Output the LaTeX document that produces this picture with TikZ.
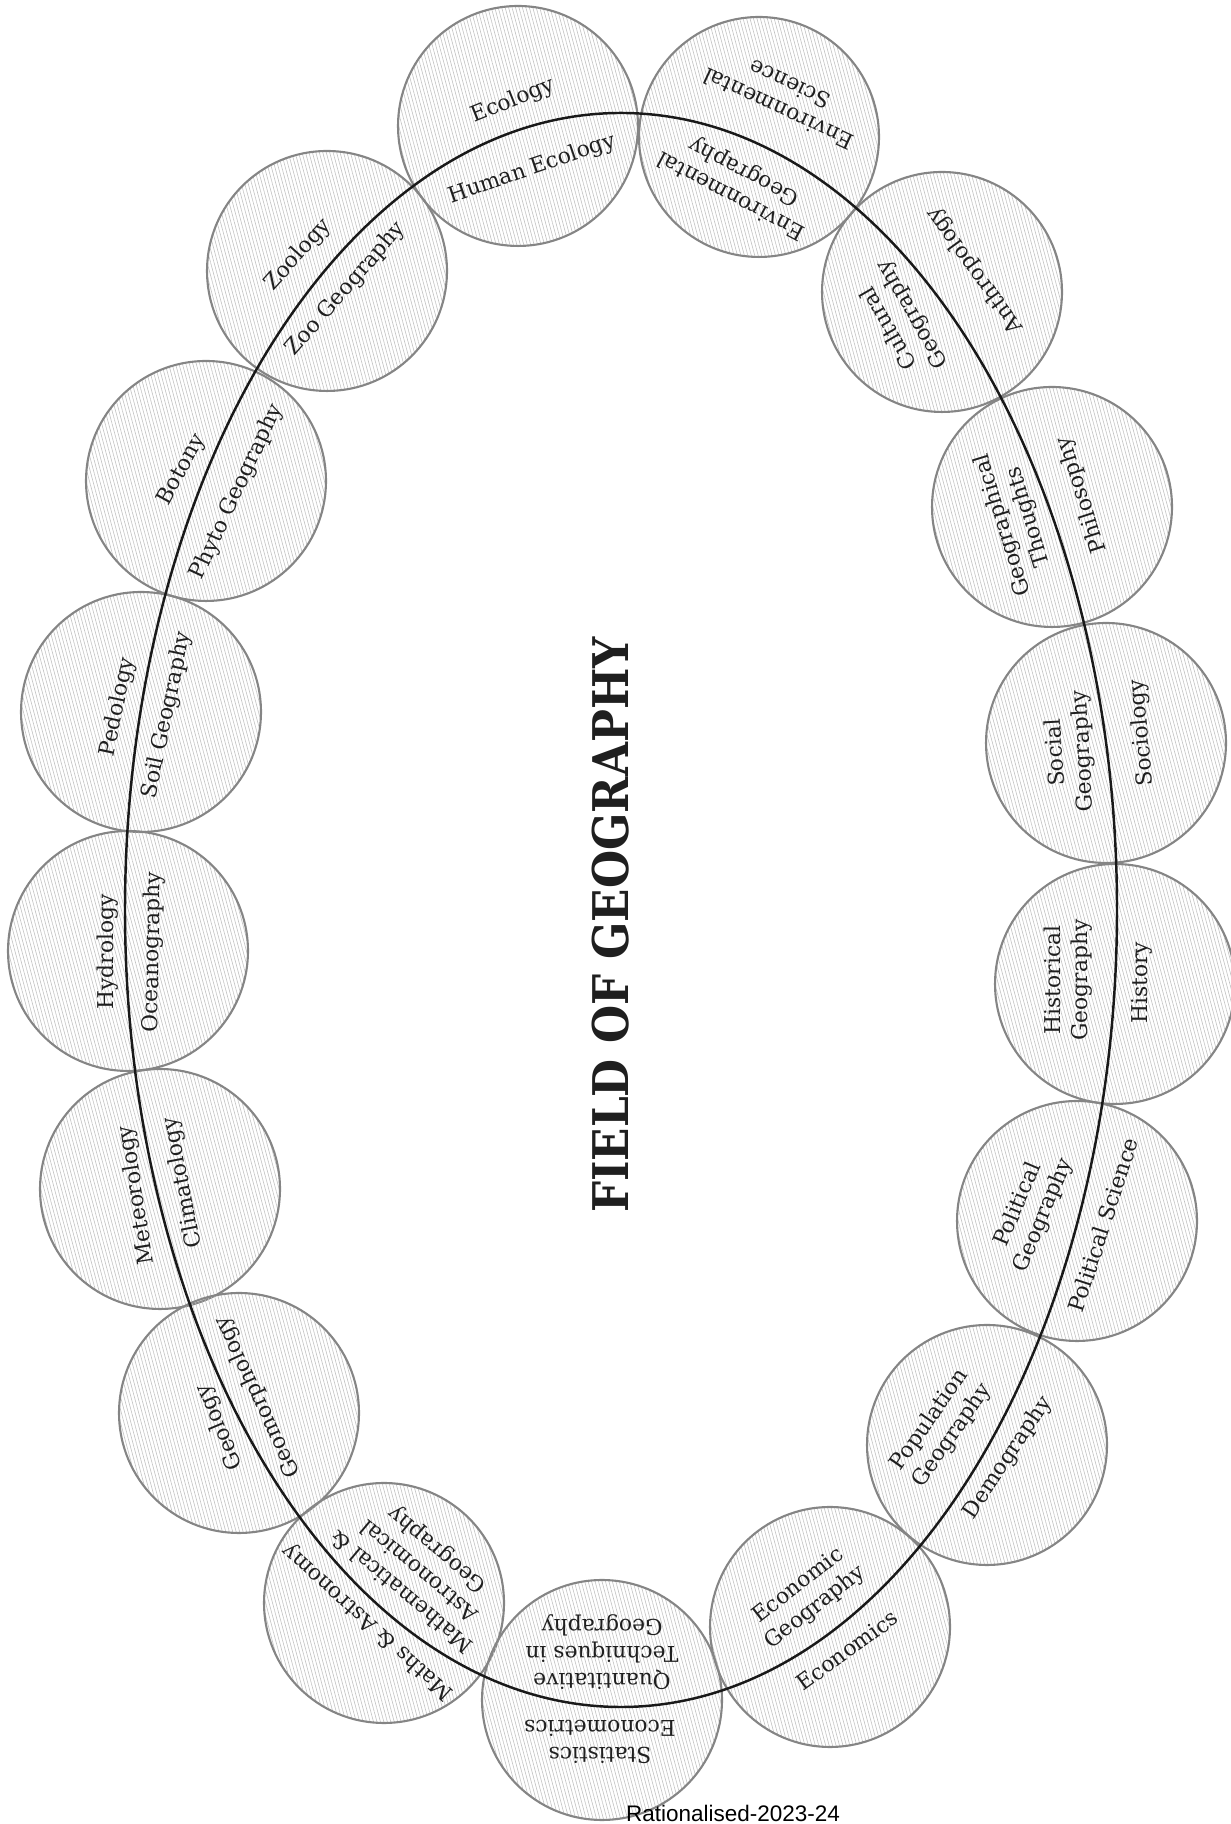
\documentclass[tikz,border=0pt]{standalone}
\usepackage{fontspec}
\setmainfont{DejaVu Serif}
\newfontfamily\stampfont{Liberation Sans}
\usetikzlibrary{patterns.meta}

\begin{document}
\begin{tikzpicture}[x=0.02cm, y=0.02cm,
        field/.style={circle,draw=black!48,line width=1.2pt,minimum size=4.8cm,inner sep=0pt,
            pattern={Lines[angle=-75,distance=1.9pt,line width=0.35pt]},pattern color=black!24},
        lbl/.style={align=center,text=black!88,inner sep=0pt,font=\fontsize{12.4}{15.5}\selectfont}]
    \useasboundingbox (0,0) rectangle (1230,1824);

    % Circles, left half (top to bottom)
    \node[field] (eco) at (518,1698) {};
    \node[field] (zoo) at (327,1553) {};
    \node[field] (bot) at (206,1343) {};
    \node[field] (ped) at (141,1112) {};
    \node[field] (hyd) at (128,873) {};
    \node[field] (met) at (160,635) {};
    \node[field] (geo) at (239,411) {};
    \node[field] (math) at (384,221) {};
    \node[field] (stat) at (602,124) {};

    % Circles, right half (bottom to top)
    \node[field] (econ) at (830,197) {};
    \node[field] (pop) at (987,379) {};
    \node[field] (pol) at (1077,603) {};
    \node[field] (hist) at (1115,840) {};
    \node[field] (soc) at (1106,1081) {};
    \node[field] (phil) at (1052,1317) {};
    \node[field] (anth) at (942,1532) {};
    \node[field] (env) at (759,1687) {};

    % The ring through the circles
    \draw[line width=1.4pt,black!90] (621,914) ellipse [x radius=496, y radius=797];

    % Labels, left half
    \node[lbl,rotate=22] (ecoout) at (513,1723) {Ecology};
    \node[lbl,rotate=19] (ecoin) at (532,1655) {Human Ecology};
    \node[lbl,rotate=48] (zooout) at (298,1569) {Zoology};
    \node[lbl,rotate=49] (zooin) at (346,1535) {Zoo Geography};
    \node[lbl,rotate=61] (botout) at (182,1354) {Botony};
    \node[lbl,rotate=65] (botin) at (237,1332) {Phyto Geography};
    \node[lbl,rotate=78] (pedout) at (118,1117) {Pedology};
    \node[lbl,rotate=78] (pedin) at (167,1109) {Soil Geography};
    \node[lbl,rotate=90] (hydout) at (108,872) {Hydrology};
    \node[lbl,rotate=89] (hydin) at (153,872) {Oceanography};
    \node[lbl,rotate=99] (metout) at (137,629) {Meteorology};
    \node[lbl,rotate=101] (metin) at (183,641) {Climatology};
    \node[lbl,rotate=113] (geoout) at (220,397) {Geology};
    \node[lbl,rotate=115] (geoin) at (258,427) {Geomorphology};
    \node[lbl,rotate=138] (mathout) at (368,202) {Maths \& Astronomy};
    \node[lbl,rotate=140] (mathin) at (420,254) {Mathematical \&\\Astronomical\\Geography};
    \node[lbl,rotate=180] (statout) at (600,82) {Statistics\\Econometrics};
    \node[lbl,rotate=180] (statin) at (602,172) {Quantitative\\Techniques in\\Geography};

    % Labels, right half
    \node[lbl,rotate=36] (econout) at (847,174) {Economics};
    \node[lbl,rotate=38] (econin) at (807,227) {Economic\\Geography};
    \node[lbl,rotate=56] (popout) at (1008,366) {Demography};
    \node[lbl,rotate=55] (popin) at (941,396) {Population\\Geography};
    \node[lbl,rotate=72] (polout) at (1103,599) {Political Science};
    \node[lbl,rotate=67] (polin) at (1031,614) {Political\\Geography};
    \node[lbl,rotate=90] (histout) at (1142,841) {History};
    \node[lbl,rotate=90] (histin) at (1068,844) {Historical\\Geography};
    \node[lbl,rotate=95] (socout) at (1142,1091) {Sociology};
    \node[lbl,rotate=93] (socin) at (1070,1072) {Social\\Geography};
    \node[lbl,rotate=108] (philout) at (1082,1329) {Philosophy};
    \node[lbl,rotate=107] (philin) at (1016,1303) {Geographical\\Thoughts};
    \node[lbl,rotate=126] (anthout) at (975,1554) {Anthropology};
    \node[lbl,rotate=120] (anthin) at (901,1503) {Cultural\\Geography};
    \node[lbl,rotate=155] (envout) at (784,1727) {Environmental\\Science};
    \node[lbl,rotate=152] (envin) at (738,1641) {Environmental\\Geography};

    % Title and stamp
    \node[rotate=90,text=black!88,font=\bfseries\fontsize{28}{32}\selectfont] (title) at (611,899)
        {\scalebox{0.89}[1]{FIELD OF GEOGRAPHY}};
    \node[font=\stampfont\fontsize{12.8}{14}\selectfont] (stamp) at (733,11) {Rationalised-2023-24};
\end{tikzpicture}
\end{document}
